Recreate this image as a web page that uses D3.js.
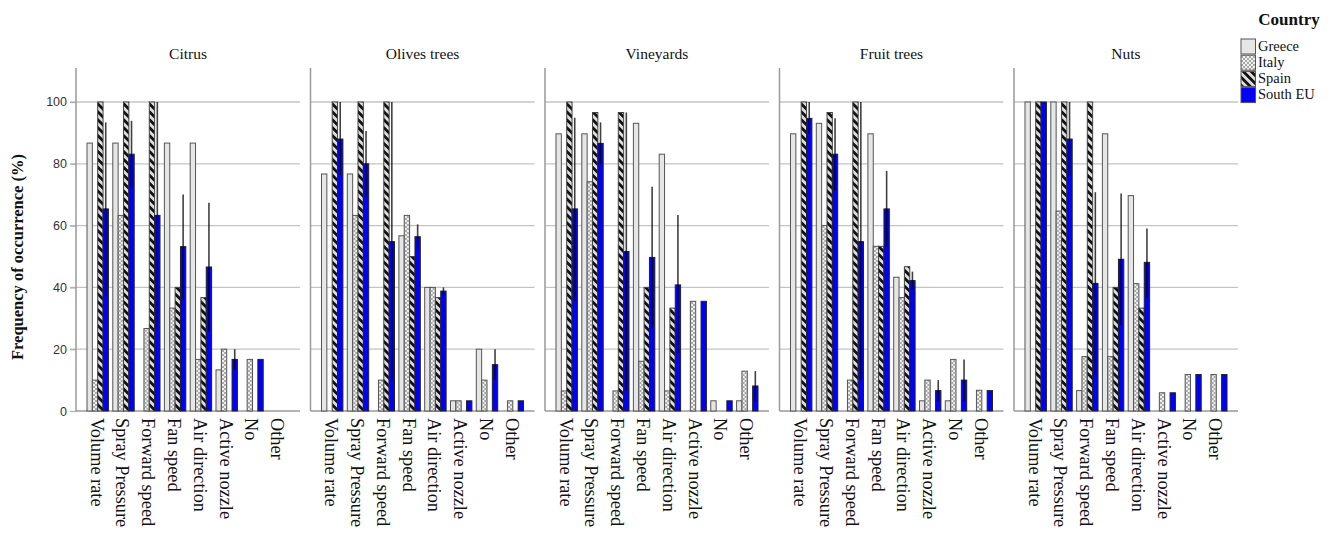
<!DOCTYPE html>
<html>
<head>
<meta charset="utf-8">
<script src="https://cdn.jsdelivr.net/npm/d3@7"></script>
<style>
  html, body { margin: 0; padding: 0; background: #fff; }
  svg { display: block; }
</style>
</head>
<body>
<svg id="chart" width="1336" height="536"></svg>
<script>
// ---------------- DATA ----------------
const crops = ["Citrus", "Olives trees", "Vineyards", "Fruit trees", "Nuts"];
const categories = ["Volume rate", "Spray Pressure", "Forward speed", "Fan speed", "Air direction", "Active nozzle", "No", "Other"];
const countries = ["Greece", "Italy", "Spain", "South EU"];
const yTicks = [0, 20, 40, 60, 80, 100];

// values per crop (rows follow `crops`, columns follow `categories`)
const greece = [
  [86.7, 86.7, 0, 86.7, 86.7, 13.3, 0, 0],
  [76.7, 76.7, 0, 56.7, 40, 3.3, 20, 0],
  [89.7, 89.7, 0, 93.1, 83.1, 0, 3.3, 3.3],
  [89.7, 93.1, 0, 89.7, 43.3, 3.3, 3.3, 0],
  [100, 100, 6.6, 89.7, 69.7, 0, 0, 0]
];
const italy = [
  [10, 63.3, 26.7, 33.3, 16.7, 20, 16.7, 0],
  [0, 63.3, 10, 63.3, 40, 3.3, 10, 3.3],
  [6.5, 74.2, 6.5, 16.1, 6.5, 35.5, 0, 12.9],
  [0, 60, 10, 53.3, 36.7, 10, 16.7, 6.7],
  [0, 64.7, 17.6, 17.6, 41.2, 5.9, 11.8, 11.8]
];
const spain = [
  [100, 100, 100, 40, 36.7, 0, 0, 0],
  [100, 100, 100, 50, 36.7, 0, 0, 0],
  [100, 96.6, 96.6, 40, 33.3, 0, 0, 0],
  [100, 96.6, 100, 53.3, 46.7, 0, 0, 0],
  [100, 100, 100, 40, 33.3, 0, 0, 0]
];
const southEU = [
  [65.4, 83.1, 63.3, 53.2, 46.6, 16.7, 16.7, 0],
  [88, 80, 54.8, 56.4, 38.8, 3.3, 15, 3.3],
  [65.4, 86.6, 51.6, 49.7, 40.8, 35.5, 3.3, 8.1],
  [94.7, 83.1, 54.8, 65.4, 42.2, 6.6, 10, 6.6],
  [100, 88, 41.3, 49.1, 48.1, 5.9, 11.8, 11.8]
];
// South EU error bar ends (null = no bar)
const southEULow = [
  [37.5, 72.6, 26.7, 36.2, 25.7, 13.3, null, null],
  [76.4, 69.4, 10, 52.6, 37.5, null, 10, null],
  [35.7, 79.8, 6.5, 26.8, 18.3, null, null, 3.3],
  [89.7, 71.2, 10, 53.3, 39.2, 3.3, 3.3, null],
  [null, 76.4, 11.7, 27.8, 36.7, null, null, null]
];
const southEUHigh = [
  [93.4, 93.9, 100, 70.1, 67.4, 20, null, null],
  [100, 90.6, 100, 60.4, 40, null, 20, null],
  [94.9, 93.4, 96.6, 72.6, 63.4, null, null, 12.9],
  [100, 94.7, 100, 77.7, 45.1, 10, 16.7, null],
  [null, 100, 70.8, 70.4, 59.1, null, null, null]
];
const seriesValues = [greece, italy, spain, southEU];

// ---------------- DRAW ----------------
const svg = d3.select("#chart");
const defs = svg.append("defs");

// Italy: checker texture
const pI = defs.append("pattern").attr("id", "pItaly").attr("patternUnits", "userSpaceOnUse")
  .attr("width", 4).attr("height", 4);
pI.append("rect").attr("width", 4).attr("height", 4).attr("fill", "#f0f0f0");
pI.append("rect").attr("width", 2).attr("height", 2).attr("fill", "#a8a8a8");
pI.append("rect").attr("x", 2).attr("y", 2).attr("width", 2).attr("height", 2).attr("fill", "#a8a8a8");

// Spain: diagonal "\" stripes
const pS = defs.append("pattern").attr("id", "pSpain").attr("patternUnits", "userSpaceOnUse")
  .attr("width", 5.6).attr("height", 5.6).attr("patternTransform", "rotate(-45)");
pS.append("rect").attr("width", 5.6).attr("height", 5.6).attr("fill", "#dedede");
pS.append("rect").attr("width", 2.8).attr("height", 5.6).attr("fill", "#111");

const fills = ["#e6e6e6", "url(#pItaly)", "url(#pSpain)", "#0000ff"];
const strokes = ["#555", "#555", "#444", "#222"];

const yTop = 68, yBottom = 411;
const y = d3.scaleLinear().domain([0, 111]).range([yBottom, yTop]);

const panelX0 = 76, panelStep = 234.5, panelW = 224;

const x = d3.scaleBand().domain(categories).range([0, panelW]).paddingInner(0.17).paddingOuter(0.426);
const xs = d3.scaleBand().domain(countries).range([0, x.bandwidth()]);

crops.forEach((crop, ci) => {
  const g = svg.append("g").attr("transform", `translate(${panelX0 + ci * panelStep},0)`);

  // gridlines (with tick extension on first panel)
  g.append("g").selectAll("line").data(yTicks.filter(t => t > 0)).join("line")
    .attr("x1", ci === 0 ? -6 : 0).attr("x2", panelW)
    .attr("y1", d => y(d)).attr("y2", d => y(d))
    .attr("stroke", "#c4c4c4").attr("stroke-width", 1.3);

  if (ci === 0) {
    const ax = g.append("g").call(d3.axisLeft(y).tickValues(yTicks).tickSize(6).tickPadding(3));
    ax.select(".domain").remove();
    ax.selectAll(".tick line").attr("stroke", "#b0b0b0").attr("stroke-width", 1.3);
    ax.selectAll(".tick text").attr("font-family", "'Liberation Sans', Arial, sans-serif")
      .attr("font-size", 12.5).attr("fill", "#333");
  }
  g.append("line").attr("x1", 0).attr("x2", 0).attr("y1", yTop).attr("y2", yBottom)
    .attr("stroke", "#9a9a9a").attr("stroke-width", 1.5);
  g.append("line").attr("x1", 0).attr("x2", panelW).attr("y1", yBottom).attr("y2", yBottom)
    .attr("stroke", "#9a9a9a").attr("stroke-width", 1.5);

  g.append("text").attr("x", panelW / 2).attr("y", 59).attr("text-anchor", "middle")
    .attr("font-family", "'Liberation Serif', 'Times New Roman', serif").attr("font-size", 15.5)
    .attr("fill", "#111").text(crop);

  categories.forEach((cat, k) => {
    const cg = g.append("g").attr("transform", `translate(${x(cat)},0)`);
    countries.forEach((ct, si) => {
      const v = seriesValues[si][ci][k];
      if (v > 0) {
        cg.append("rect")
          .attr("x", xs(ct)).attr("width", xs.bandwidth())
          .attr("y", y(v)).attr("height", y(0) - y(v))
          .attr("fill", fills[si]).attr("stroke", strokes[si]).attr("stroke-width", 1);
      }
    });
    const lo = southEULow[ci][k], hi = southEUHigh[ci][k];
    if (lo !== null && hi !== null) {
      const cx = xs("South EU") + xs.bandwidth() / 2;
      cg.append("line").attr("x1", cx).attr("x2", cx).attr("y1", y(hi)).attr("y2", y(lo))
        .attr("stroke", "#000").attr("stroke-width", 1.6).attr("stroke-opacity", 0.75);
    }
    g.append("text")
      .attr("transform", `translate(${x(cat) + x.bandwidth() / 2 - 1},418) rotate(90)`)
      .attr("dy", "0.33em")
      .attr("font-family", "'Liberation Serif', 'Times New Roman', serif").attr("font-size", 18.3)
      .attr("fill", "#111").text(cat);
  });
});

svg.append("text").attr("transform", "translate(23,257) rotate(-90)").attr("text-anchor", "middle")
  .attr("font-family", "'Liberation Serif', 'Times New Roman', serif").attr("font-weight", "bold")
  .attr("font-size", 16.5).attr("fill", "#111").text("Frequency of occurrence (%)");

const lg = svg.append("g").attr("transform", "translate(1241,0)");
lg.append("text").attr("x", 48).attr("y", 25).attr("text-anchor", "middle")
  .attr("font-family", "'Liberation Serif', 'Times New Roman', serif").attr("font-weight", "bold")
  .attr("font-size", 17).attr("fill", "#111").text("Country");
countries.forEach((ct, i) => {
  const yy = 39 + i * 16.2;
  lg.append("rect").attr("x", 0).attr("y", yy).attr("width", 14.5).attr("height", 15)
    .attr("fill", fills[i]).attr("stroke", "#555").attr("stroke-width", 1);
  lg.append("text").attr("x", 17).attr("y", yy + 11.5)
    .attr("font-family", "'Liberation Serif', 'Times New Roman', serif").attr("font-size", 14.5)
    .attr("fill", "#111").text(ct);
});
</script>
</body>
</html>
